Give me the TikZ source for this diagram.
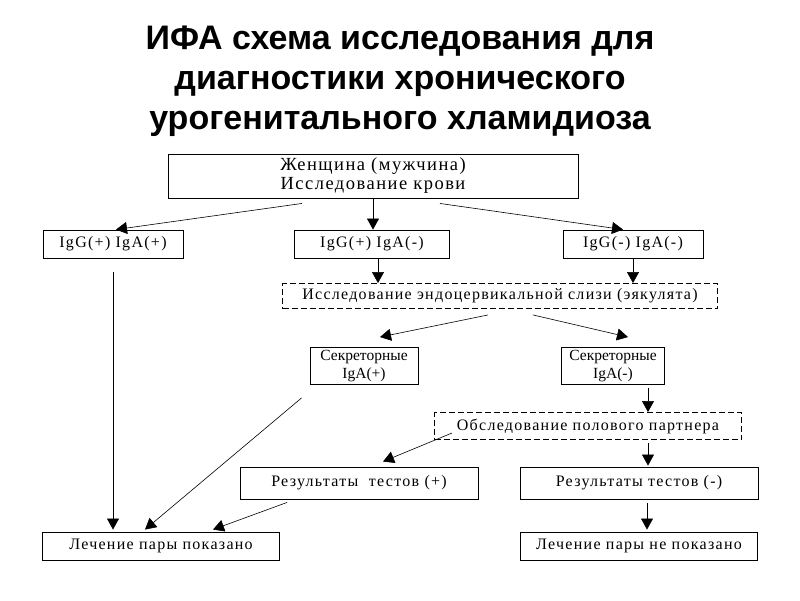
\documentclass[tikz,border=0pt]{standalone}
\usepackage{fontspec}
\usetikzlibrary{arrows.meta}
\newfontfamily\titlefont{Liberation Sans}
\newfontfamily\boxfont[LetterSpace=8]{Liberation Serif}
\newfontfamily\plainfont{Liberation Serif}

\tikzset{
  box/.style={draw, line width=0.9pt, inner sep=0pt, align=center,
    font=\boxfont\fontsize{16}{18}\selectfont},
  dbox/.style={box, dash pattern=on 6pt off 3pt},
  arr/.style={-{Triangle[width=12pt,length=11pt]}, line width=0.6pt},
  head/.style={font=\titlefont\bfseries\fontsize{34}{40}\selectfont, anchor=base},
}

\begin{document}
\begin{tikzpicture}[x=1pt,y=-1pt]
\useasboundingbox (0,0) rectangle (800,600);
% Title
\node[head] (head1) at (400,49) {ИФА схема исследования для};
\node[head] (head2) at (400,89) {диагностики хронического};
\node[head] (head3) at (400,129) {урогенитального хламидиоза};
% Blood test
\node[box, minimum width=410pt, minimum height=44pt, font=\boxfont\fontsize{18.5}{19}\selectfont] (blood) at (373,176) {Женщина (мужчина)\\Исследование крови};
\node[box, minimum width=140pt, minimum height=28pt] (gpp) at (113,244) {IgG(+) IgA(+)};
\node[box, minimum width=155pt, minimum height=28pt] (gpm) at (372,244) {IgG(+) IgA(-)};
\node[box, minimum width=140pt, minimum height=28pt] (gmm) at (633,244) {IgG(-) IgA(-)};
% Mucus test
\node[dbox, minimum width=435pt, minimum height=25pt] (mucus) at (500,296) {Исследование эндоцервикальной слизи (эякулята)};
\node[box, minimum width=108pt, minimum height=37pt, font=\plainfont\fontsize{15.5}{18}\selectfont] (secp) at (364,366) {Секреторные\\IgA(+)};
\node[box, minimum width=103pt, minimum height=37pt, font=\plainfont\fontsize{15.5}{18}\selectfont] (secm) at (613,366) {Секреторные\\IgA(-)};
% Partner
\node[dbox, minimum width=307pt, minimum height=27pt] (partner) at (588,426) {Обследование полового партнера};
\node[box, minimum width=238pt, minimum height=32pt] (resp) at (359,483) {Результаты\ \ тестов (+)};
\node[box, minimum width=238pt, minimum height=32pt] (resm) at (639,483) {Результаты тестов (-)};
% Outcome
\node[box, minimum width=237pt, minimum height=28pt] (treat) at (161,546) {Лечение пары показано};
\node[box, minimum width=237pt, minimum height=28pt] (notreat) at (639,546) {Лечение пары не показано};
% Arrows from blood test
\draw[arr] ([xshift=-71pt,yshift=-5pt]blood.south) -- ([xshift=3pt]gpp.north);
\draw[arr] (blood.south) -- (blood.south |- gpm.north);
\draw[arr] ([xshift=67pt,yshift=-5pt]blood.south) -- ([xshift=-10pt]gmm.north);
\draw[arr] ([xshift=6pt]gpm.south) -- ([xshift=6pt]gpm.south |- mucus.north);
\draw[arr] (gmm.south) -- (gmm.south |- mucus.north);
% Arrows from mucus test
\draw[arr] ([xshift=-12pt,yshift=-6pt]mucus.south) -- ([xshift=16pt,yshift=10pt]secp.north);
\draw[arr] ([xshift=33pt,yshift=-6pt]mucus.south) -- ([xshift=15pt,yshift=10pt]secm.north);
\draw[arr] ([xshift=35pt,yshift=-3pt]secm.south) -- ([xshift=35pt]secm.south |- partner.north);
% Arrows from partner
\draw[arr] ([xshift=18pt,yshift=-7pt]partner.west) -- ([xshift=24pt,yshift=5pt]resp.north);
\draw[arr] ([xshift=60pt,yshift=-3pt]partner.south) -- ([xshift=60pt,yshift=1pt]partner.south |- resm.north);
\draw[arr] ([xshift=8pt,yshift=-4pt]resm.south) -- ([xshift=8pt,yshift=2pt]notreat.north);
% Arrows into treatment
\draw[arr] ([yshift=-14pt]gpp.south) -- ([yshift=2pt]treat.north -| gpp.south);
\draw[arr] ([xshift=-8pt,yshift=-13pt]secp.south west) -- ([xshift=-16pt,yshift=2pt]treat.north);
\draw[arr] ([xshift=-72pt,yshift=-3pt]resp.south) -- ([xshift=52pt,yshift=2pt]treat.north);
\end{tikzpicture}
\end{document}
